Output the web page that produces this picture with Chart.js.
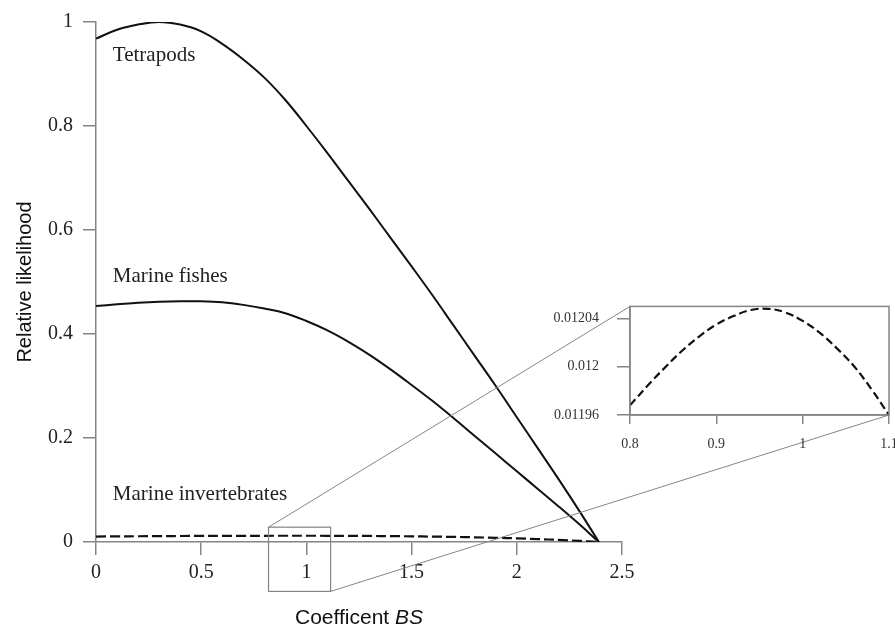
<!DOCTYPE html>
<html>
<head>
<meta charset="utf-8">
<script src="https://cdn.jsdelivr.net/npm/chart.js@4.4.1/dist/chart.umd.min.js"></script>
<style>
  html, body { margin: 0; padding: 0; background: #fff; overflow: hidden; }
  #wrap { position: relative; width: 895px; height: 630px; overflow: hidden; }
  #mainChart { position: absolute; left: 0; top: 0; }
  #insetChart { position: absolute; left: 540px; top: 280px; }
</style>
</head>
<body>
<div id="wrap">
  <canvas id="mainChart" width="895" height="630"></canvas>
  <canvas id="insetChart" width="400" height="180"></canvas>
</div>
<script>
// coefficient BS values (x axis)
const bs = [0, 0.1, 0.2, 0.3, 0.4, 0.5, 0.6, 0.7, 0.8, 0.9, 1.0, 1.1, 1.2,
            1.3, 1.4, 1.5, 1.6, 1.7, 1.8, 1.9, 2.0, 2.1, 2.2, 2.3, 2.39];

// relative likelihood
const tetrapods = [0.968, 0.985, 0.995, 1.0, 0.995, 0.982, 0.958, 0.928, 0.893, 0.850, 0.800, 0.748, 0.694,
                   0.640, 0.585, 0.530, 0.474, 0.416, 0.358, 0.300, 0.240, 0.180, 0.120, 0.058, 0];
const marineFishes = [0.454, 0.457, 0.460, 0.462, 0.463, 0.463, 0.461, 0.456, 0.449, 0.440, 0.425, 0.407, 0.385,
                      0.360, 0.332, 0.302, 0.271, 0.238, 0.204, 0.170, 0.136, 0.102, 0.068, 0.033, 0];
const marineInvert = [0.0105, 0.0108, 0.0111, 0.0113, 0.0115, 0.0117, 0.01185, 0.01192, 0.01197, 0.01203, 0.01204, 0.01196, 0.0118,
                      0.0116, 0.0113, 0.0109, 0.0104, 0.0098, 0.0090, 0.0081, 0.0070, 0.0056, 0.0040, 0.0021, 0];

// zoomed part of the marine invertebrates curve (inset)
const insetBS = [0.80, 0.82, 0.84, 0.86, 0.88, 0.90, 0.92, 0.94, 0.96, 0.98, 1.00, 1.02, 1.04, 1.06, 1.08, 1.10];
const insetInvert = [0.011968, 0.011984, 0.011999, 0.012013, 0.012025, 0.012035, 0.012042, 0.012047, 0.012048,
                     0.012045, 0.012038, 0.012028, 0.012015, 0.012000, 0.011981, 0.011960];

// tick labels
const xTicks = [0, 0.5, 1, 1.5, 2, 2.5];
const yTicks = [0, 0.2, 0.4, 0.6, 0.8, 1];
const insetXTicks = [0.8, 0.9, 1, 1.1];
const insetYTicks = [0.01196, 0.012, 0.01204];

// curve names written next to the curves
const curveLabels = ['Tetrapods', 'Marine fishes', 'Marine invertebrates'];
const curveLabelAt = [[0.08, 0.925], [0.08, 0.4995], [0.08, 0.0817]];

// zoom box drawn on the main plot (data units)
const zoomBoxX = [0.82, 1.115];
const zoomBoxY = [-0.095, 0.0285];

const axisGrey = '#858585';
const serif = '"Liberation Serif", "Times New Roman", serif';
const sans = '"Liberation Sans", Arial, sans-serif';

function pts(xs, ys) {
    return xs.map((x, i) => ({ x: x, y: ys[i] }));
}

function fixedTicks(list) {
    return function (scale) {
        scale.ticks = list.map(v => ({ value: v }));
    };
}

// plain number text, no forced trailing zeros
function plain(digits) {
    return v => String(Number(v.toFixed(digits)));
}

// ---- inset chart ----
const insetBox = {
    id: 'insetBox',
    afterDraw(chart) {
        const a = chart.chartArea;
        const c = chart.ctx;
        c.save();
        c.strokeStyle = axisGrey;
        c.lineWidth = 1.5;
        c.strokeRect(a.left, a.top, a.right - a.left, a.bottom - a.top);
        c.restore();
    }
};

const insetChart = new Chart(document.getElementById('insetChart'), {
    type: 'line',
    data: {
        datasets: [{
            data: pts(insetBS, insetInvert),
            borderColor: '#111',
            borderWidth: 2.2,
            borderDash: [8, 4],
            pointRadius: 0,
            tension: 0.4
        }]
    },
    options: {
        responsive: false,
        animation: false,
        layout: { padding: { top: 24, right: 51, left: 0, bottom: 0 } },
        plugins: { legend: { display: false }, tooltip: { enabled: false } },
        scales: {
            x: {
                type: 'linear',
                min: 0.8,
                max: 1.1,
                afterBuildTicks: fixedTicks(insetXTicks),
                afterFit: s => { s.height = 45; },
                grid: { drawOnChartArea: false, tickLength: 9, color: axisGrey, lineWidth: 1.5 },
                border: { color: axisGrey, width: 1.5 },
                ticks: {
                    font: { family: serif, size: 14 },
                    color: '#333',
                    padding: 12,
                    maxRotation: 0,
                    callback: plain(2)
                }
            },
            y: {
                min: 0.01196,
                max: 0.01205,
                afterBuildTicks: fixedTicks(insetYTicks),
                afterFit: s => { s.width = 90; },
                grid: { drawOnChartArea: false, tickLength: 13, color: axisGrey, lineWidth: 1.5 },
                border: { color: axisGrey, width: 1.5 },
                ticks: {
                    font: { family: serif, size: 14 },
                    color: '#333',
                    padding: 18,
                    callback: plain(5)
                }
            }
        }
    },
    plugins: [insetBox]
});

// ---- main chart ----
const extras = {
    id: 'extras',
    afterDraw(chart) {
        const c = chart.ctx;
        const xs = chart.scales.x;
        const ys = chart.scales.y;
        c.save();

        // curve names
        c.fillStyle = '#222';
        c.font = '21px ' + serif;
        c.textBaseline = 'alphabetic';
        curveLabels.forEach((t, i) => {
            c.fillText(t, xs.getPixelForValue(curveLabelAt[i][0]), ys.getPixelForValue(curveLabelAt[i][1]));
        });

        // zoom box
        const bx0 = xs.getPixelForValue(zoomBoxX[0]);
        const bx1 = xs.getPixelForValue(zoomBoxX[1]);
        const by0 = ys.getPixelForValue(zoomBoxY[0]);
        const by1 = ys.getPixelForValue(zoomBoxY[1]);
        c.strokeStyle = axisGrey;
        c.lineWidth = 1.2;
        c.strokeRect(bx0, by1, bx1 - bx0, by0 - by1);

        // connectors to the inset
        const ia = insetChart.chartArea;
        const ic = insetChart.canvas;
        const ox = ic.offsetLeft, oy = ic.offsetTop;
        c.lineWidth = 1;
        c.beginPath();
        c.moveTo(bx0, by1);
        c.lineTo(ox + ia.left, oy + ia.top);
        c.moveTo(bx1, by0);
        c.lineTo(ox + ia.right, oy + ia.bottom);
        c.stroke();

        // x axis title with italic BS
        const a = chart.chartArea;
        const part1 = 'Coefficent ';
        const part2 = 'BS';
        c.fillStyle = '#111';
        c.font = '21px ' + sans;
        const w1 = c.measureText(part1).width;
        c.font = 'italic 21px ' + sans;
        const w2 = c.measureText(part2).width;
        const startX = (a.left + a.right) / 2 - (w1 + w2) / 2;
        const baseY = chart.height - 6;
        c.font = '21px ' + sans;
        c.fillText(part1, startX, baseY);
        c.font = 'italic 21px ' + sans;
        c.fillText(part2, startX + w1, baseY);
        c.restore();
    }
};

const curveStyle = { borderColor: '#111', borderWidth: 2, pointRadius: 0, tension: 0.4 };

const mainChart = new Chart(document.getElementById('mainChart'), {
    type: 'line',
    data: {
        datasets: [
            Object.assign({ label: 'Tetrapods', data: pts(bs, tetrapods) }, curveStyle),
            Object.assign({ label: 'Marine fishes', data: pts(bs, marineFishes) }, curveStyle),
            Object.assign({}, curveStyle, { label: 'Marine invertebrates', data: pts(bs, marineInvert), borderDash: [10, 4], borderWidth: 2.2 })
        ]
    },
    options: {
        responsive: false,
        animation: false,
        layout: { padding: { top: 15, right: 273, left: 0, bottom: 0 } },
        plugins: { legend: { display: false }, tooltip: { enabled: false } },
        scales: {
            x: {
                type: 'linear',
                min: 0,
                max: 2.5,
                afterBuildTicks: fixedTicks(xTicks),
                afterFit: s => { s.height = 88; },
                grid: { drawOnChartArea: false, tickLength: 13, color: axisGrey, lineWidth: 1.5 },
                border: { color: axisGrey, width: 1.5 },
                ticks: { font: { family: serif, size: 20 }, color: '#222', padding: 6, maxRotation: 0, callback: plain(1) }
            },
            y: {
                min: 0,
                max: 1,
                afterBuildTicks: fixedTicks(yTicks),
                afterFit: s => { s.width = 96; },
                grid: { drawOnChartArea: false, tickLength: 13, color: axisGrey, lineWidth: 1.5 },
                border: { color: axisGrey, width: 1.5 },
                ticks: { font: { family: serif, size: 20 }, color: '#222', padding: 10, callback: plain(1) },
                title: {
                    display: true,
                    text: 'Relative likelihood',
                    font: { family: sans, size: 20 },
                    color: '#111',
                    padding: { top: 13, bottom: 0 }
                }
            }
        }
    },
    plugins: [extras]
});
</script>
</body>
</html>
